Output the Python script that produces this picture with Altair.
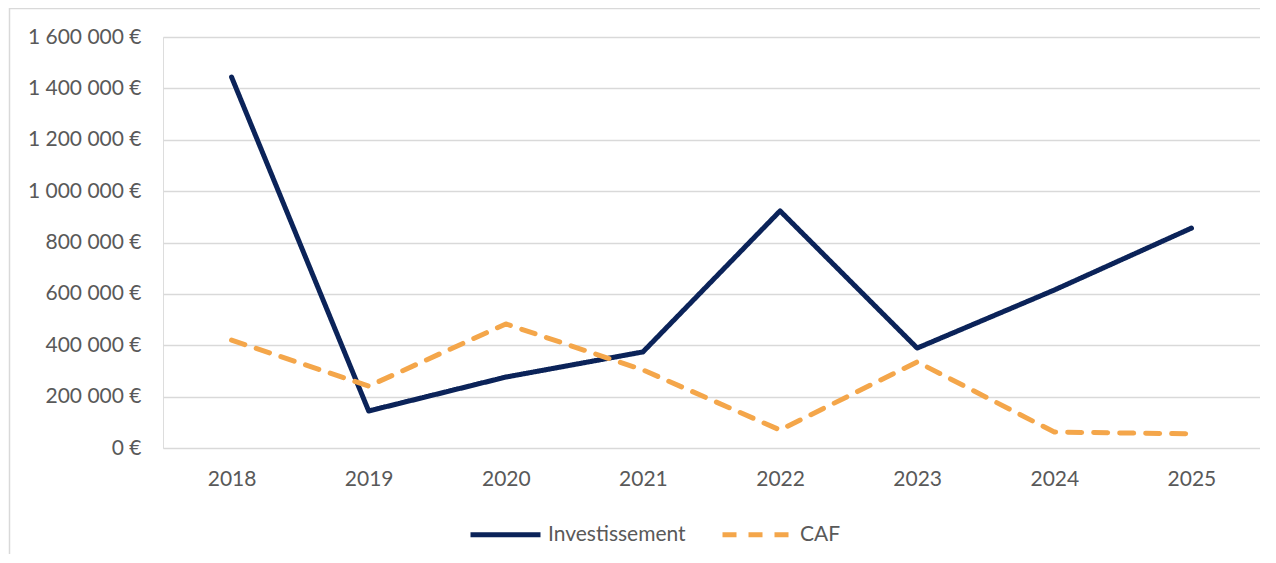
import altair as alt
import pandas as pd

years = ["2018", "2019", "2020", "2021", "2022", "2023", "2024", "2025"]
investissement = [1444000, 144000, 276000, 374000, 923000, 389000, 615000, 856000]
caf = [420000, 241000, 483000, 304000, 70000, 335000, 62000, 55000]
series_names = ["Investissement", "CAF"]
series_colors = ["#0B2359", "#F4A64A"]
y_ticks = [0, 200000, 400000, 600000, 800000, 1000000, 1200000, 1400000, 1600000]

rows = []
for name, vals in zip(series_names, [investissement, caf]):
    for yr, v in zip(years, vals):
        rows.append({"Année": yr, "Valeur": v, "Série": name})
df = pd.DataFrame(rows)

W, H = 1097, 411
FONT = "Lato"
FS = 21

lines = alt.Chart(df).mark_line(strokeWidth=5, strokeCap="round", strokeJoin="round").encode(
    x=alt.X("Année:O", sort=years,
            scale=alt.Scale(type="point", padding=0.5),
            axis=alt.Axis(title=None, labelAngle=0, ticks=False, domain=False, grid=False,
                          labelPadding=20, labelFontSize=FS, labelColor="#595959", labelFont=FONT)),
    y=alt.Y("Valeur:Q", scale=alt.Scale(domain=[0, 1600000], nice=False),
            axis=alt.Axis(title=None, values=y_ticks, ticks=False, domain=False,
                          gridColor="#d9d9d9", gridWidth=1.5,
                          labelExpr="replace(format(datum.value, ','), /,/g, ' ') + ' €'",
                          labelPadding=22, labelFontSize=FS, labelColor="#595959", labelFont=FONT)),
    color=alt.Color("Série:N", sort=series_names,
                    scale=alt.Scale(domain=series_names, range=series_colors),
                    legend=alt.Legend(title=None, orient="none", legendX=305, legendY=460,
                                      direction="horizontal", columns=2, columnPadding=26,
                                      symbolType="stroke", symbolSize=4900, symbolStrokeWidth=5,
                                      labelFontSize=FS, labelColor="#595959", labelFont=FONT,
                                      labelOffset=5)),
    strokeDash=alt.StrokeDash("Série:N", sort=series_names,
                              scale=alt.Scale(domain=series_names, range=[[1, 0], [14, 12]]),
                              legend=None),
)

border = alt.Chart(pd.DataFrame({"a": [0]})).mark_rule(color="#d9d9d9", strokeWidth=1.5).encode(
    x=alt.value(-153.5), y=alt.value(-29), y2=alt.value(H + 110)
)
border_top = alt.Chart(pd.DataFrame({"a": [0]})).mark_rule(color="#d9d9d9", strokeWidth=1.5).encode(
    x=alt.value(-153.5), x2=alt.value(W + 10), y=alt.value(-28.5)
)

chart = alt.layer(border, border_top, lines).properties(
    width=W, height=H,
    autosize=alt.AutoSizeParams(type="none"),
    padding={"left": 155, "top": 29, "right": 0, "bottom": 106},
).configure_view(stroke=None).configure(background="white")

chart.save("out.html", embed_options={"renderer": "svg", "actions": False})
